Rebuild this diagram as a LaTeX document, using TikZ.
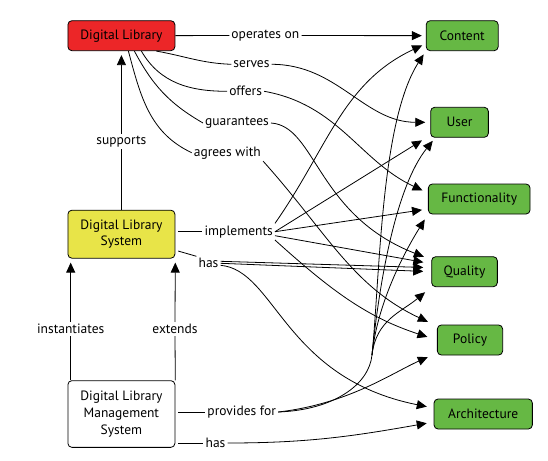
\documentclass[tikz,border=0pt]{standalone}
\usepackage{fontspec}
\setmainfont{PT Sans}
\usetikzlibrary{arrows.meta}

\definecolor{dlred}{RGB}{236,38,40}
\definecolor{dlyellow}{RGB}{232,228,72}
\definecolor{dlgreen}{RGB}{102,184,68}

\begin{document}
\begin{tikzpicture}[
x=1pt, y=1pt,
every node/.style={font=\fontsize{13.5}{16.7}\selectfont},
dlbox/.style={draw, rounded corners=4pt, align=center, minimum width=107pt, line width=0.8pt},
concept/.style={draw, rounded corners=4pt, fill=dlgreen, minimum height=30pt, line width=0.8pt},
lbl/.style={inner sep=2pt},
line/.style={line width=0.8pt},
stub/.style={line width=0.8pt, shorten <=3pt},
arrow/.style={line width=0.8pt, -{Triangle[length=10pt,width=9pt]}, shorten >=#1},
arrow/.default=4pt
]
\useasboundingbox (0,0) rectangle (548,-460);

\node[dlbox, fill=dlred, minimum height=30pt] (dl) at (121.4,-35.7) {Digital Library};
\node[dlbox, fill=dlyellow, minimum height=48pt] (dls) at (121.4,-234.2) {Digital Library\\System};
\node[dlbox, minimum height=66.7pt] (dlms) at (121.4,-414) {Digital Library\\Management\\System};

\node[concept, minimum width=72pt] (content) at (462.2,-35.7) {Content};
\node[concept, minimum width=57.7pt] (user) at (459.5,-122.3) {User};
\node[concept, minimum width=101.7pt] (func) at (479.2,-199) {Functionality};
\node[concept, minimum width=65.7pt] (quality) at (464.5,-271.7) {Quality};
\node[concept, minimum width=65.3pt] (policy) at (470,-340) {Policy};
\node[concept, minimum width=98.3pt] (arch) at (483.2,-414) {Architecture};

\node[lbl] (operates) at (265.4,-35.5) {operates on};
\node[lbl] (serves) at (251.5,-64.3) {serves};
\node[lbl] (offers) at (245.6,-91.3) {offers};
\node[lbl] (guarantees) at (237,-123) {guarantees};
\node[lbl] (agrees) at (227.4,-152.7) {agrees with};
\node[lbl] (supports) at (121.4,-141.3) {supports};
\node[lbl] (implements) at (238.7,-231.7) {implements};
\node[lbl] (syshas) at (208.5,-263.3) {has};
\node[lbl] (instantiates) at (70.7,-329) {instantiates};
\node[lbl] (extends) at (175,-329) {extends};
\node[lbl] (provides) at (241.7,-412) {provides for};
\node[lbl] (mgmthas) at (215.5,-443) {has};
\coordinate (fork) at (372,-355);

\draw[line] (dl) -- (operates);
\draw[arrow] (operates) -- (content);
\draw[line] ([xshift=35pt]dl.south) to[out=-10,in=178] (serves.west);
\draw[arrow=5pt] (serves.east) to[out=0,in=180] (user.west);
\draw[line] ([xshift=20pt]dl.south) to[out=-60,in=180] (offers.west);
\draw[arrow=6pt] (offers.east) to[out=-10,in=155] ([yshift=6pt]func.west);
\draw[line] ([xshift=13pt]dl.south) to[out=-62,in=150] (guarantees.west);
\draw[arrow=8pt] (guarantees.east) .. controls +(45,-3) and +(-115,45) .. ([yshift=12pt]quality.west);
\draw[line] ([xshift=7pt]dl.south) to[out=-75,in=155] (agrees.west);
\draw[arrow=10pt] (agrees.south east) to[out=-48,in=155] ([yshift=14pt]policy.west);

\draw[line] (dls) -- (supports);
\draw[arrow] (supports) -- (dl);

\draw[stub] (implements.west -| dls.east) -- (implements.west);
\draw[arrow] (implements.north east) to[out=55,in=205] ([yshift=-8pt]content.west);
\draw[arrow=5pt] (implements.east) -- ([xshift=-4pt]user.south west);
\draw[arrow=6pt] (implements.east) -- ([yshift=-10pt]func.west);
\draw[arrow=8pt] ([yshift=-4pt]implements.east) -- ([yshift=8pt]quality.west);
\draw[arrow=10pt] (implements.south east) to[out=-42,in=162] (policy.west);

\draw[stub] ([yshift=-16pt]dls.east) -- (syshas.north west);
\draw[arrow=8pt] ([yshift=2pt]syshas.east) -- ([yshift=4pt]quality.west);
\draw[arrow=8pt] (syshas.east) -- (quality.west);
\draw[arrow=7pt] ([yshift=-2pt]syshas.east) .. controls +(55,-5) and +(-150,30) .. ([yshift=6pt]arch.west);

\draw[line] (instantiates.south |- dlms.north) -- (instantiates.south);
\draw[arrow] (instantiates.north) -- (instantiates.north |- dls.south);
\draw[line] (dlms.north east) -- (extends.south);
\draw[arrow] (extends.north) -- (dls.south east);

\draw[stub] (provides.west -| dlms.east) -- (provides.west);
\draw[line] (provides.east) .. controls +(55,2) and +(-3,-30) .. (fork);
\draw[arrow] (fork) .. controls +(8,80) and +(-45,-70) .. (content.south west);
\draw[arrow] (fork) .. controls +(7,70) and +(-40,-50) .. ([xshift=5pt]user.south west);
\draw[arrow=6pt] (fork) .. controls +(5,50) and +(-25,-40) .. (func.south west);
\draw[arrow=8pt] (fork) .. controls +(4,35) and +(-30,-25) .. (quality.south west);
\draw[arrow=10pt] (provides.east) .. controls +(70,8) and +(-45,-20) .. ([yshift=-13pt]policy.west);

\draw[stub] (mgmthas.west -| dlms.east) -- (mgmthas.west);
\draw[arrow=7pt] (mgmthas.east) to[out=0,in=190] ([yshift=-8pt]arch.west);
\end{tikzpicture}
\end{document}
